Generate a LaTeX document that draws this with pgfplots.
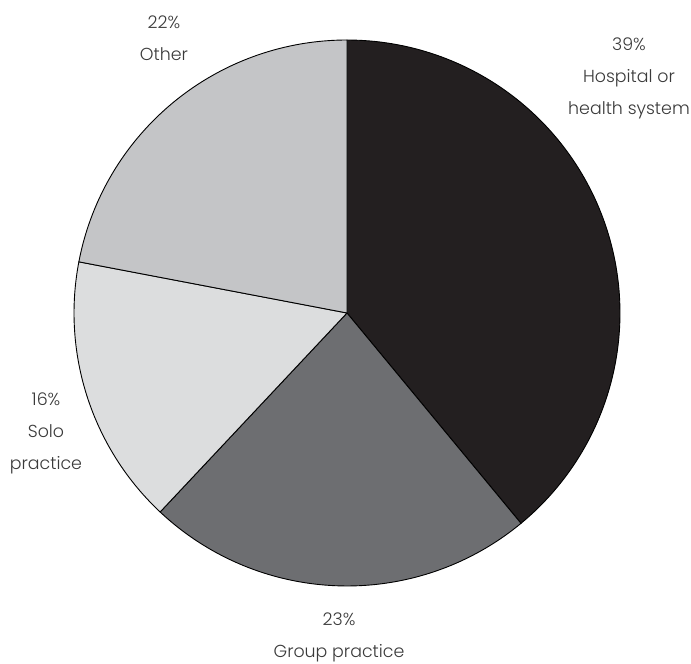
\documentclass[border=0pt]{standalone}
\usepackage{pgfplots}
\pgfplotsset{compat=1.18}
\usepackage{fontspec}
\setmainfont{Poppins}[UprightFont={* Light}]
\definecolor{cHosp}{HTML}{231F20}
\definecolor{cGroup}{HTML}{6D6E71}
\definecolor{cSolo}{HTML}{DCDDDE}
\definecolor{cOther}{HTML}{C4C5C7}
\definecolor{txt}{HTML}{3A3A3A}
% shares in percent, clockwise from 12 o'clock
\def\vHosp{39}
\def\vGroup{23}
\def\vSolo{16}
\def\vOther{22}
\begin{document}
\begin{tikzpicture}
\begin{axis}[
  x=136.5pt, y=136.5pt,
  xmin=-1.2711, xmax=1.2601,
  ymin=-1.2857, ymax=1.1465,
  hide axis, clip=false,
]
\pgfmathsetmacro{\aA}{90}
\pgfmathsetmacro{\aB}{90-3.6*\vHosp}
\pgfmathsetmacro{\aC}{\aB-3.6*\vGroup}
\pgfmathsetmacro{\aD}{\aC-3.6*\vSolo}
\pgfmathsetmacro{\aE}{\aD-3.6*\vOther}
\addplot[fill=cHosp, draw=black, line width=0.45pt, domain=\aB:\aA, samples=120] ({cos(x)},{sin(x)}) -- (axis cs:0,0) -- cycle;
\addplot[fill=cGroup, draw=black, line width=0.45pt, domain=\aC:\aB, samples=80] ({cos(x)},{sin(x)}) -- (axis cs:0,0) -- cycle;
\addplot[fill=cSolo, draw=black, line width=0.45pt, domain=\aD:\aC, samples=60] ({cos(x)},{sin(x)}) -- (axis cs:0,0) -- cycle;
\addplot[fill=cOther, draw=black, line width=0.45pt, domain=\aE:\aD, samples=80] ({cos(x)},{sin(x)}) -- (axis cs:0,0) -- cycle;
\begin{scope}[every node/.style={align=center, text=txt, font=\fontsize{8.7}{16}\selectfont}]
\node at (axis cs:1.0330,0.8608) {\vHosp\%\\Hospital or\\health system};
\node at (axis cs:-0.6703,1.0055) {\vOther\%\\Other};
\node at (axis cs:-1.1026,-0.4396) {\vSolo\%\\Solo\\practice};
\node at (axis cs:-0.0293,-1.1886) {\vGroup\%\\Group practice};
\end{scope}
\end{axis}
\pgfresetboundingbox
\path (current axis.south west) rectangle (current axis.north east);
\end{tikzpicture}
\end{document}
